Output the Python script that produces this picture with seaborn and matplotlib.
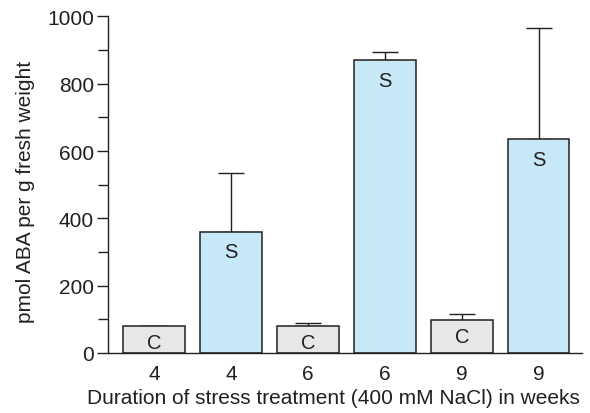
import seaborn as sns
import numpy as np
import pandas as pd
import matplotlib.pyplot as plt
from matplotlib.ticker import MultipleLocator

# values
weeks = ["4", "4", "6", "6", "9", "9"]
treatment = ["C", "S", "C", "S", "C", "S"]
aba = [80, 360, 80, 870, 97, 636]
err = [0, 175, 8, 25, 20, 330]

sns.set_style('ticks')
plt.rcParams['font.family'] = ['Liberation Sans', 'DejaVu Sans']

df = pd.DataFrame({
    'slot': [f"{w}{t}" for w, t in zip(weeks, treatment)],
    'aba': aba,
    'treatment': treatment,
})

fig = plt.figure(figsize=(5.9, 4.14), dpi=100)
ax = fig.add_axes([0.183, 0.145, 0.803, 0.813])

sns.barplot(data=df, x='slot', y='aba', hue='treatment',
            palette={'C': '#e6e7e8', 'S': '#c6e8f7'}, dodge=False,
            saturation=1, width=0.8, edgecolor='#231f20', linewidth=1.1,
            legend=False, ax=ax, errorbar=None, zorder=2)

ax.errorbar(np.arange(len(aba)), aba, yerr=[np.zeros(len(err)), err],
            fmt='none', ecolor='#231f20', elinewidth=1.0, capsize=9.5,
            capthick=1.0, zorder=1)

for i, (v, t) in enumerate(zip(aba, treatment)):
    off = -11.5 if t == 'C' else -14.5
    ax.annotate(t, (i, v), xytext=(0, off), textcoords='offset points',
                ha='center', va='center', fontsize=14.5, color='#231f20')

ax.set_xlim(-0.6, 5.56)
ax.set_ylim(0, 1000)
ax.yaxis.set_major_locator(MultipleLocator(200))
ax.yaxis.set_minor_locator(MultipleLocator(100))
ax.set_xticks(range(len(weeks)))
ax.set_xticklabels(weeks)
ax.tick_params(axis='x', length=0, labelsize=15, pad=8, colors='#231f20')
ax.tick_params(axis='y', which='major', length=8, width=1.0,
               labelsize=15, pad=2, colors='#231f20')
ax.tick_params(axis='y', which='minor', length=7, width=1.0,
               colors='#231f20')
sns.despine(ax=ax, top=True, right=True)
for s in ['left', 'bottom']:
    ax.spines[s].set_color('#231f20')
    ax.spines[s].set_linewidth(1.0)

ax.set_xlabel("Duration of stress treatment (400 mM NaCl) in weeks",
              fontsize=15, color='#231f20')
ax.xaxis.set_label_coords(0.475, -0.105)
ax.set_ylabel("pmol ABA per g fresh weight", fontsize=15,
              color='#231f20')
ax.yaxis.set_label_coords(-0.155, 0.48)

fig.savefig('out.png', dpi=100)
